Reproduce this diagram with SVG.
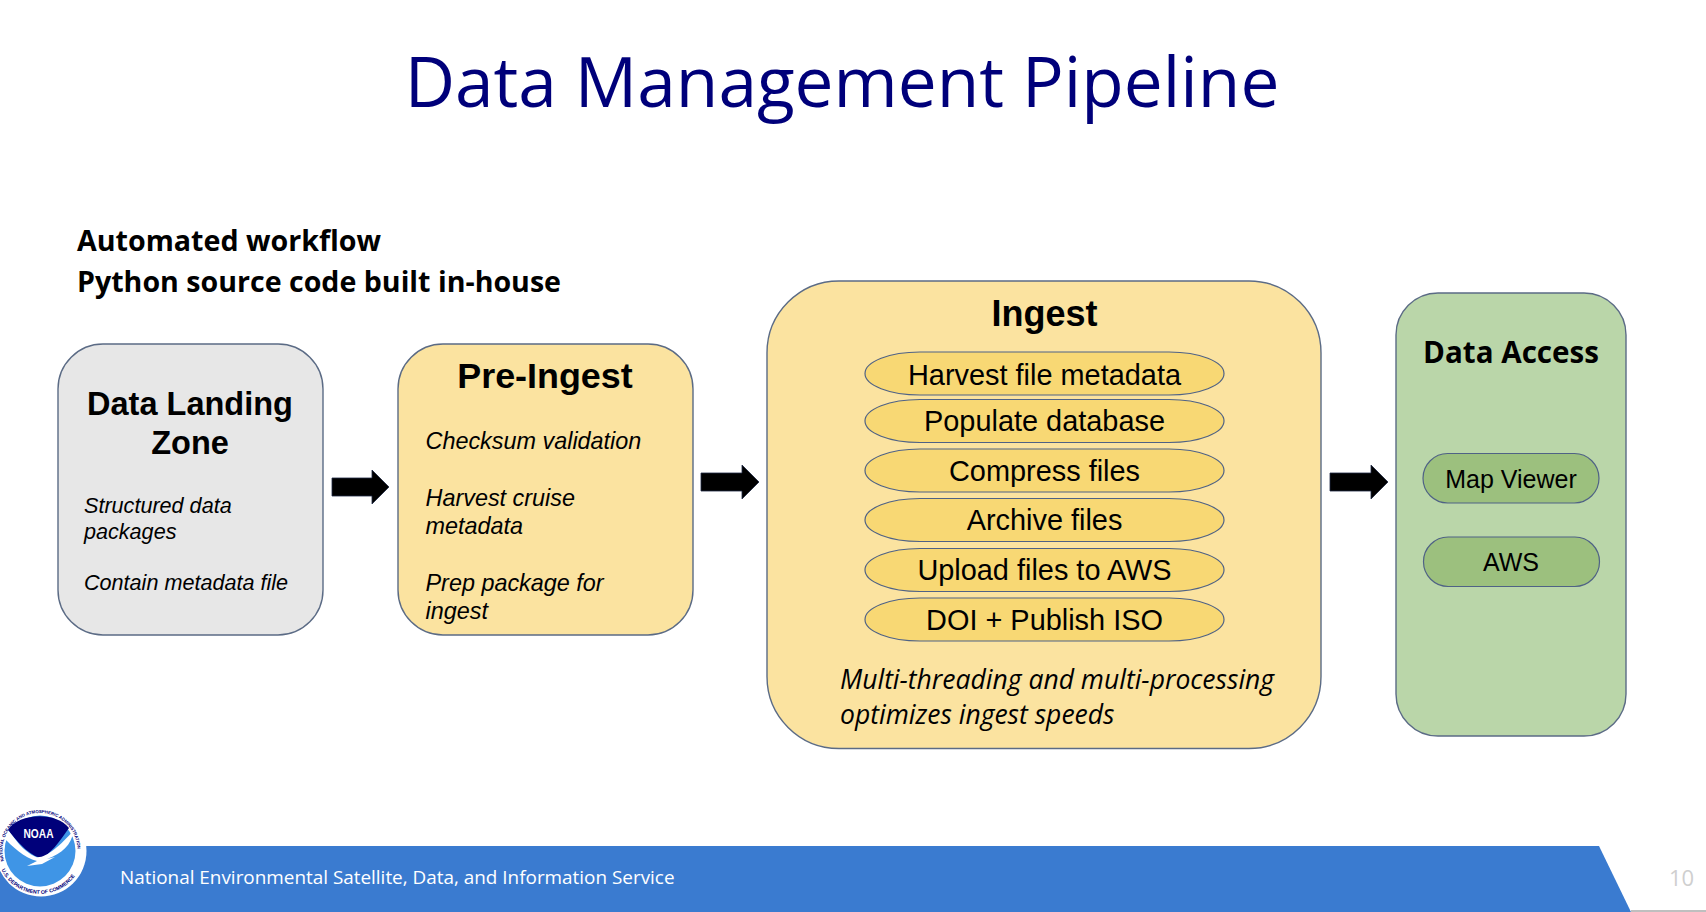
<svg xmlns="http://www.w3.org/2000/svg" width="1706" height="912" viewBox="0 0 1706 912">
<style>
.n{stroke:#5b6b85;stroke-width:1.4}
.y{fill:#fbe3a0}
.e{fill:#f8d874;stroke:#4f6285;stroke-width:1.2}
.p{fill:#9cc07e;stroke:#4f6285;stroke-width:1.2}
.h{font-family:"Liberation Sans",Arial,sans-serif;font-weight:700;fill:#000;text-anchor:middle}
.i{font-family:"Liberation Sans",Arial,sans-serif;font-style:italic;font-size:21.6px;fill:#000}
.j{font-size:23.4px}
.t{font-family:"Liberation Sans",Arial,sans-serif;font-size:28.900px;fill:#000;text-anchor:middle}
.u{font-size:25px}
.o{font-family:"Open Sans",sans-serif}
.a{fill:#000;stroke:#1f2a44;stroke-width:.8}
.r{font-family:"Liberation Sans",Arial,sans-serif;font-weight:700;fill:#00007a}
</style>
<defs>
<path id="ringTop" d="M4 861A37.500 37.500 0 1 1 76 861"/>
<path id="ringBottom" d="M1 869A43 43 0 0 0 79 869"/>
</defs>
<rect width="1706" height="912" fill="#fff"/>
<text id="title" class="o" x="842" y="107" font-size="69.400" fill="#00007a" text-anchor="middle">Data Management Pipeline</text>
<g id="subtitle" class="o" font-size="28" font-weight="700" fill="#000">
<text x="77" y="251" textLength="304" lengthAdjust="spacingAndGlyphs">Automated workflow</text>
<text x="77" y="292" textLength="484" lengthAdjust="spacingAndGlyphs">Python source code built in-house</text>
</g>
<g id="landing">
<rect class="n" x="58" y="344" width="265" height="291" rx="45" fill="#e7e7e7"/>
<text class="h" font-size="32.500" x="190" y="415">Data Landing</text>
<text class="h" font-size="32.500" x="190" y="454">Zone</text>
<text class="i" x="84" y="513">Structured data</text>
<text class="i" x="84" y="539">packages</text>
<text class="i" x="84" y="590">Contain metadata file</text>
</g>
<g id="preingest">
<rect class="n y" x="398" y="344" width="295" height="291" rx="45"/>
<text class="h" font-size="35.900" x="545" y="388">Pre-Ingest</text>
<text class="i j" x="425.500" y="449">Checksum validation</text>
<text class="i j" x="425.500" y="506">Harvest cruise</text>
<text class="i j" x="425.500" y="534">metadata</text>
<text class="i j" x="425.500" y="591">Prep package for</text>
<text class="i j" x="425.500" y="619">ingest</text>
</g>
<g id="ingest">
<rect class="n y" x="767" y="281" width="554" height="467.500" rx="72"/>
<text class="h" font-size="36" x="1044.500" y="326">Ingest</text>
<g id="step1"><rect class="e" x="865" y="352" width="359" height="43" rx="55" ry="21.500"/><text class="t" x="1044.500" y="384.500">Harvest file metadata</text></g>
<g id="step2"><rect class="e" x="865" y="399.500" width="359" height="43" rx="55" ry="21.500"/><text class="t" x="1044.500" y="431">Populate database</text></g>
<g id="step3"><rect class="e" x="865" y="449" width="359" height="43" rx="55" ry="21.500"/><text class="t" x="1044.500" y="481">Compress files</text></g>
<g id="step4"><rect class="e" x="865" y="498.500" width="359" height="43" rx="55" ry="21.500"/><text class="t" x="1044.500" y="530">Archive files</text></g>
<g id="step5"><rect class="e" x="865" y="548.500" width="359" height="43" rx="55" ry="21.500"/><text class="t" x="1044.500" y="580">Upload files to AWS</text></g>
<g id="step6"><rect class="e" x="865" y="598" width="359" height="43" rx="55" ry="21.500"/><text class="t" x="1044.500" y="630">DOI + Publish ISO</text></g>
<text class="o" font-size="26.500" font-style="italic" x="840" y="688.500">Multi-threading and multi-processing</text>
<text class="o" font-size="26.500" font-style="italic" x="840" y="723.500">optimizes ingest speeds</text>
</g>
<g id="access">
<rect class="n" x="1396" y="293" width="230" height="443" rx="42" fill="#bad6a9"/>
<text class="o" font-size="30" font-weight="700" text-anchor="middle" x="1511" y="363" textLength="176" lengthAdjust="spacingAndGlyphs">Data Access</text>
<g id="mapviewer"><rect class="p" x="1423" y="453.500" width="176" height="49.500" rx="24.700"/><text class="t u" x="1511" y="488">Map Viewer</text></g>
<g id="aws"><rect class="p" x="1423.500" y="537" width="176" height="49.500" rx="24.700"/><text class="t u" x="1511" y="571">AWS</text></g>
</g>
<g id="connectors">
<path class="a" d="M332 478h40v-8l17 17-17 17v-8h-40z"/>
<path class="a" d="M701 473h41v-8l17 17-17 17v-8h-41z"/>
<path class="a" d="M1330 473h41v-8l17 17-17 17v-8h-41z"/>
</g>
<g id="footer">
<path d="M0 846H1599L1631 912H0z" fill="#3a7bd0"/>
<rect x="1631" y="910" width="75" height="2" fill="#bfbfbf"/>
<text class="o" x="120" y="884" font-size="18.900" fill="#fff">National Environmental Satellite, Data, and Information Service</text>
<text class="o" x="1669" y="886" font-size="22" fill="#cfcfcf">10</text>
</g>
<g id="logo">
<circle cx="41" cy="851" r="45.500" fill="#fff"/>
<circle cx="40" cy="851" r="35.500" fill="#3f95e6"/>
<path d="M8 830C18 813 56 811 69 828C62 838 54 850 43 858C32 858 18 843 8 830z" fill="#00007a"/>
<path d="M7 829C15 838 22 851 36 857C45 859 60 846 74 830C71 846 62 853 47 859L55 857L42 864L27 866L37 861C24 858 12 846 3 837z" fill="#fff"/>
<text x="38.500" y="838" font-family="Liberation Sans,sans-serif" font-weight="700" font-size="12.500" fill="#fff" text-anchor="middle" textLength="30" lengthAdjust="spacingAndGlyphs">NOAA</text>
<text class="r" font-size="4.400"><textPath href="#ringTop">NATIONAL OCEANIC AND ATMOSPHERIC ADMINISTRATION</textPath></text>
<text class="r" font-size="5.200"><textPath href="#ringBottom" startOffset="1">U.S. DEPARTMENT OF COMMERCE</textPath></text>
</g>
</svg>
